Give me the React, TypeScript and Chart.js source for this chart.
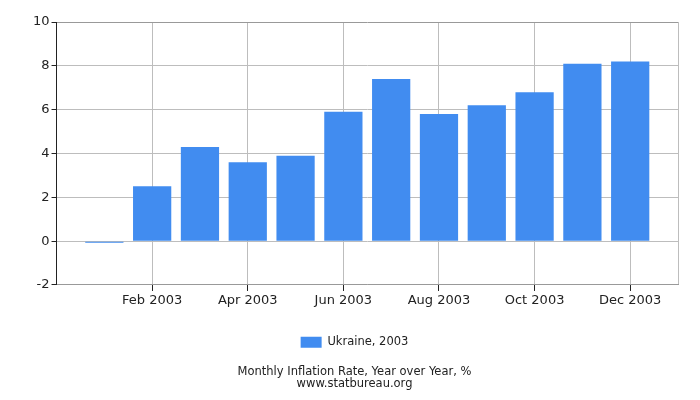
import React, { useRef, useEffect } from 'react';
import Chart from 'chart.js/auto';

const months = ['', 'Jan 2003', 'Feb 2003', 'Mar 2003', 'Apr 2003', 'May 2003', 'Jun 2003',
  'Jul 2003', 'Aug 2003', 'Sep 2003', 'Oct 2003', 'Nov 2003', 'Dec 2003', ''];
const inflation = [null, -0.07, 2.5, 4.3, 3.6, 3.9, 5.9, 7.4, 5.8, 6.2, 6.8, 8.1, 8.2, null];
const yTicks = [-2, 0, 2, 4, 6, 8, 10];
const seriesLabel = 'Ukraine, 2003';
const titleLines = ['Monthly Inflation Rate, Year over Year, %', 'www.statbureau.org'];

const App: React.FC = () => {
  const canvasRef = useRef<HTMLCanvasElement | null>(null);
  const chartRef = useRef<Chart | null>(null);

  useEffect(() => {
    document.body.style.margin = '0';
    const ctx = canvasRef.current?.getContext('2d');
    if (!ctx) return;
    if (chartRef.current) chartRef.current.destroy();

    // only every other month gets a label, grid line and tick
    const shown = (i: number) => i > 0 && i < 13 && i % 2 === 0;

    chartRef.current = new Chart(ctx, {
      type: 'bar',
      data: {
        labels: months,
        datasets: [{
          label: seriesLabel,
          data: inflation,
          backgroundColor: '#418cf0',
          borderWidth: 0,
          barPercentage: 0.8,
          categoryPercentage: 1,
        }],
      },
      options: {
        animation: false,
        responsive: false,
        layout: { padding: { left: 31, right: 22, top: 22, bottom: 2 } },
        font: { family: 'DejaVu Sans', size: 13 },
        scales: {
          x: {
            offset: false,
            afterFit: (s: any) => { s.height += 8; },
            grid: {
              offset: false,
              color: (c: any) => (c.index === 0 || c.index === 13 || shown(c.index) ? '#bdbdbd' : 'transparent'),
              tickLength: 6,
              tickColor: (c: any) => (shown(c.index) ? '#222' : 'transparent'),
            },
            border: { color: '#999' },
            ticks: {
              autoSkip: false,
              maxRotation: 0,
              color: '#222',
              padding: 2,
              font: { family: 'DejaVu Sans', size: 13 },
              callback: (_v: any, i: number) => (shown(i) ? months[i] : ''),
            },
          },
          y: {
            min: yTicks[0],
            max: yTicks[yTicks.length - 1],
            afterBuildTicks: (axis: any) => {
              axis.ticks = yTicks.map((v) => ({ value: v }));
            },
            grid: {
              color: (c: any) => (c.tick && c.tick.value === 10 ? '#999' : '#bdbdbd'),
              tickLength: 5,
              tickColor: '#222',
            },
            border: { color: '#222' },
            ticks: {
              color: '#222',
              padding: 2,
              font: { family: 'DejaVu Sans', size: 13 },
            },
          },
        },
        plugins: {
          legend: {
            position: 'bottom',
            labels: {
              boxWidth: 21,
              boxHeight: 11,
              color: '#222',
              padding: 18,
              font: { family: 'DejaVu Sans', size: 11.5 },
            },
          },
          title: {
            display: true,
            position: 'bottom',
            text: titleLines,
            color: '#222',
            padding: { top: 8, bottom: 8 },
            font: { family: 'DejaVu Sans', size: 11.5, weight: 'normal', lineHeight: 1.04 },
          },
          tooltip: { enabled: false },
        },
      },
    } as any);

    return () => {
      if (chartRef.current) {
        chartRef.current.destroy();
        chartRef.current = null;
      }
    };
  }, []);

  return <canvas ref={canvasRef} width={700} height={400} style={{ display: 'block' }} />;
};

export default App;
